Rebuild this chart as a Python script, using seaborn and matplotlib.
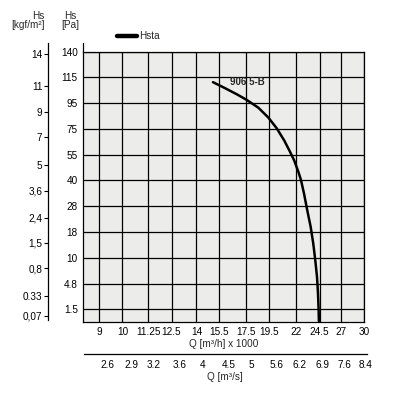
import numpy as np
import pandas as pd
import seaborn as sns
from matplotlib import pyplot as plt
from matplotlib.ticker import FixedLocator, NullLocator, FixedFormatter

# tick values
q_ticks = [9, 10, 11.25, 12.5, 14, 15.5, 17.5, 19.5, 22, 24.5, 27, 30]
q_labels = ['9', '10', '11.25', '12.5', '14', '15.5', '17.5', '19.5', '22', '24.5', '27', '30']
qs_ticks = [2.6, 2.9, 3.2, 3.6, 4, 4.5, 5, 5.6, 6.2, 6.9, 7.6, 8.4]
pa_ticks = [1.5, 4.8, 10, 18, 28, 40, 55, 75, 95, 115, 140]
kgf_ticks = [14, 11, 9, 7, 5, 3.6, 2.4, 1.5, 0.8, 0.33, 0.07]
kgf_labels = ['14', '11', '9', '7', '5', '3,6', '2,4', '1,5', '0,8', '0.33', '0,07']

# fan curve 906 5-B (Q in m3/h x 1000, Hs in Pa)
curve_q = [15.09, 15.93, 16.80, 17.58, 18.53, 19.40, 20.15, 20.86, 21.40, 21.83, 22.23,
           22.50, 22.81, 23.15, 23.51, 23.79, 24.01, 24.20, 24.31, 24.38, 24.41]
curve_pa = [111.2, 106.6, 101.9, 97.5, 91.5, 83.8, 75.5, 65.9, 57.4, 51.5, 45.1,
            40.3, 34.0, 26.5, 20.1, 14.5, 9.55, 6.18, 3.55, 1.41, 0.0]


# Pa axis is drawn with even spacing between ticks
def pa_to_pos(p):
    p = np.asarray(p, dtype=float)
    idx = np.arange(len(pa_ticks))
    pos = np.interp(p, pa_ticks, idx)
    low = p < pa_ticks[0]
    pos[low] = (p[low] - pa_ticks[0]) / (pa_ticks[1] - pa_ticks[0])
    return pos


sns.set_style('white')
plt.rcParams['font.family'] = ['Liberation Sans Narrow', 'Liberation Sans', 'DejaVu Sans']
plt.rcParams['font.size'] = 7

fs = 7.2
fig = plt.figure(figsize=(3.96, 4.05), dpi=100)
box = [82.7 / 396, 1 - 322.3 / 405, 281.6 / 396, 270.8 / 405]
ax = fig.add_axes(box)
ax.set_facecolor('#ecedeb')

df = pd.DataFrame({'Q': curve_q, 'pos': pa_to_pos(curve_pa)})
sns.lineplot(data=df, x='Q', y='pos', sort=False, color='black', linewidth=1.8,
             ax=ax, label='Hsta')

xmin, xmax = 8.35, 30
ax.set_xscale('log')
ax.set_xlim(xmin, xmax)
ax.set_ylim(-0.5, 10)
ax.xaxis.set_major_locator(FixedLocator(q_ticks))
ax.xaxis.set_major_formatter(FixedFormatter(q_labels))
ax.xaxis.set_minor_locator(NullLocator())
ax.yaxis.set_major_locator(FixedLocator(list(range(len(pa_ticks)))))
ax.yaxis.set_major_formatter(FixedFormatter([str(v) for v in pa_ticks]))
ax.tick_params(axis='both', length=0, pad=3.5, labelsize=fs, colors='black')
ax.grid(True, color='black', linewidth=0.9)
for s in ax.spines.values():
    s.set_color('black')
    s.set_linewidth(0.9)
ax.set_xlabel('Q [m³/h] x 1000', fontsize=fs, labelpad=1.5)
ax.set_ylabel('')
# left spine runs up past the frame
ax.plot([0, 0], [1, 1.03], transform=ax.transAxes, color='black', linewidth=0.9, clip_on=False)

ax.text(16.3, pa_to_pos([111])[0], '906 5-B', fontsize=7, fontweight='bold', va='center', ha='left')

leg = ax.legend(loc='center left', bbox_to_anchor=(0.122, 1.057), frameon=False,
                borderpad=0, borderaxespad=0, handlelength=2.0, handletextpad=0.2, fontsize=fs)
for h in leg.get_lines():
    h.set_linewidth(3.2)

# kgf/m2 axis further left
axk = ax.twinx()
axk.set_ylim(ax.get_ylim())
axk.yaxis.set_ticks_position('left')
axk.yaxis.set_label_position('left')
for k in ['right', 'top', 'bottom']:
    axk.spines[k].set_visible(False)
axk.spines['left'].set_position(('outward', 25))
axk.spines['left'].set_bounds(-0.42, 10.34)
axk.spines['left'].set_linewidth(0.9)
axk.spines['left'].set_color('black')
axk.yaxis.set_major_locator(FixedLocator(pa_to_pos(np.array(kgf_ticks) * 9.81)))
axk.yaxis.set_major_formatter(FixedFormatter(kgf_labels))
axk.tick_params(axis='y', length=3, width=0.8, pad=1, labelsize=fs, colors='black', direction='out')

# m3/s axis below, a few pixels wider than the plot so 8.4 fits
extra = 2.7
xmax_s = xmax * np.exp(np.log(xmax / xmin) * extra / 281.6)
axs = fig.add_axes([box[0], box[1], (281.6 + extra) / 396, box[3]])
axs.patch.set_visible(False)
axs.set_xscale('log')
axs.set_xlim(xmin, xmax_s)
axs.set_yticks([])
for k in ['right', 'top', 'left']:
    axs.spines[k].set_visible(False)
axs.spines['bottom'].set_position(('outward', 32 * 0.72))
axs.spines['bottom'].set_bounds(8.39, xmax_s)
axs.spines['bottom'].set_linewidth(0.9)
axs.spines['bottom'].set_color('black')
axs.xaxis.set_major_locator(FixedLocator([v * 3.6 for v in qs_ticks]))
axs.xaxis.set_major_formatter(FixedFormatter([str(v) for v in qs_ticks]))
axs.xaxis.set_minor_locator(NullLocator())
axs.tick_params(axis='x', length=0, pad=4, labelsize=fs, colors='black')
axs.set_xlabel('Q [m³/s]', fontsize=fs, labelpad=1.5)

# axis titles at the top left
fig.text(38 / 396, 1 - 16 / 405, 'Hs', ha='center', va='center', fontsize=fs)
fig.text(28 / 396, 1 - 25 / 405, '[kgf/m²]', ha='center', va='center', fontsize=fs)
fig.text(70 / 396, 1 - 16 / 405, 'Hs', ha='center', va='center', fontsize=fs)
fig.text(70 / 396, 1 - 25 / 405, '[Pa]', ha='center', va='center', fontsize=fs)

plt.savefig('out.png', dpi=100)
